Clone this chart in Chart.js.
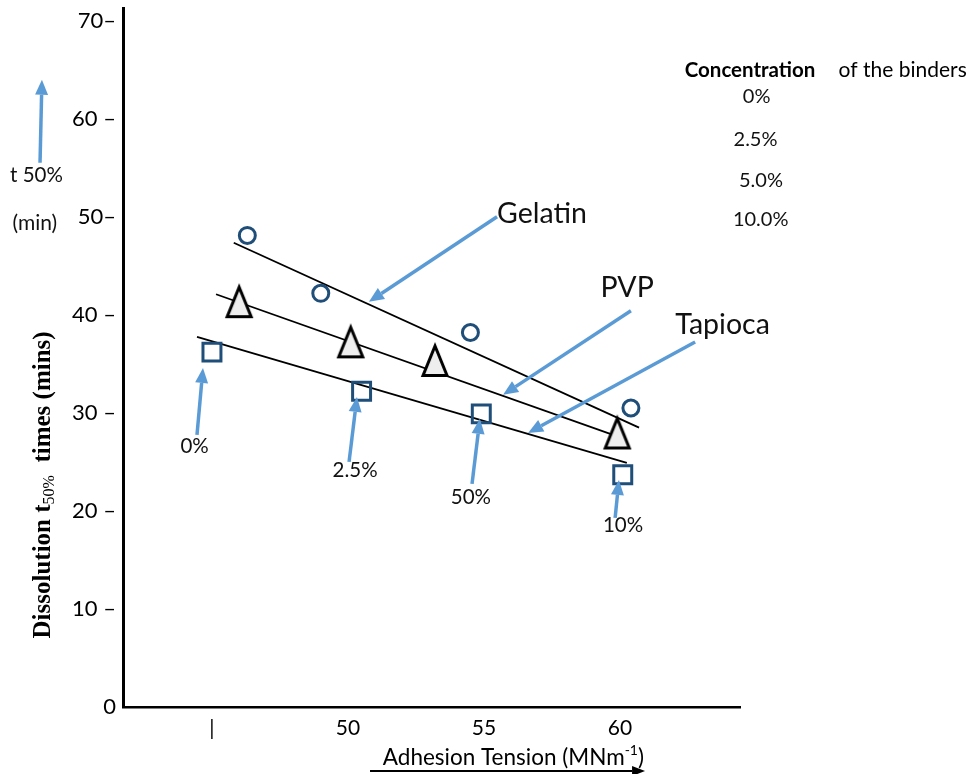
<!DOCTYPE html>
<html>
<head>
<meta charset="utf-8">
<script src="https://cdn.jsdelivr.net/npm/chart.js@4.4.1/dist/chart.umd.min.js"></script>
<style>
  html, body { margin: 0; padding: 0; background: #fff; }
  canvas { display: block; }
</style>
</head>
<body>
<canvas id="chart" width="969" height="774"></canvas>
<script>
// ---- data: adhesion tension (MNm^-1) vs dissolution t50% (min) ----
const seriesNames = ['Gelatin', 'PVP', 'Tapioca'];

const gelatinX = [46.3, 49.0, 54.5, 60.4];
const gelatinY = [48.1, 42.2, 38.2, 30.5];
const pvpX = [46.0, 50.1, 53.2, 59.9];
const pvpY = [41.4, 37.3, 35.4, 28.0];
const tapiocaX = [45.0, 50.5, 54.9, 60.1];
const tapiocaY = [36.2, 32.2, 29.9, 23.7];

// fitted trend lines (end points)
const gelatinFitX = [45.8, 60.7];
const gelatinFitY = [47.35, 28.5];
const pvpFitX = [45.15, 59.9];
const pvpFitY = [42.1, 27.6];
const tapiocaFitX = [44.45, 60.25];
const tapiocaFitY = [37.75, 24.9];

const xTickValues = [45, 50, 55, 60];
const xTickLabels = ['|', '50', '55', '60'];
const yTickValues = [0, 10, 20, 30, 40, 50, 60, 70];
const yTickLabels = ['0', '10 \u2013', '20 \u2013', '30 \u2013', '40 \u2013', '50\u2013', '60 \u2013', '70\u2013'];

const concentrationLevels = ['0%', '2.5%', '5.0%', '10.0%'];
const pointTags = ['0%', '2.5%', '50%', '10%'];

// ---- layout of callouts, in axis units ----
const layout = {
  seriesLabel: [[57.13, 50.3], [60.26, 42.76], [63.77, 39.0]],
  seriesArrow: [
    [[55.48, 50.0], [50.77, 41.33]],
    [[60.40, 40.41], [55.70, 31.84]],
    [[62.76, 37.24], [56.62, 27.96]]
  ],
  tagLabel: [[44.36, 26.63], [50.26, 24.18], [54.52, 21.43], [60.11, 18.57]],
  tagArrow: [
    [[44.45, 27.76], [44.67, 34.59]],
    [[50.04, 25.00], [50.33, 31.63]],
    [[54.56, 22.76], [54.85, 29.39]],
    [[59.82, 19.29], [59.96, 23.16]]
  ],
  legendTitle: [64.78, 64.95],
  legendTitleRest: [70.39, 64.95],
  legendRows: [[65.02, 62.24], [64.98, 57.86], [65.18, 53.67], [65.17, 49.69]],
  sideNote: [[38.55, 54.18], [38.49, 49.39]],
  sideArrow: [[38.68, 55.51], [38.75, 63.98]],
  yTitle: [38.75, 22.65],
  xTitle: [56.08, -5.1],
  xArrow: [[50.81, -6.53], [60.92, -6.53]]
};

const BLUE = '#5b9bd5';
const NAVY = '#1f4e79';
const SANS = 'Lato, "Liberation Sans", sans-serif';
const SERIF = '"Liberation Serif", "DejaVu Serif", serif';

function pairs(xs, ys) { return xs.map((v, i) => ({ x: v, y: ys[i] })); }

function triangleMarker() {
  const c = document.createElement('canvas');
  c.width = 32; c.height = 40;
  const g = c.getContext('2d');
  g.beginPath();
  g.moveTo(16, 6);
  g.lineTo(28, 35.5);
  g.lineTo(4, 35.5);
  g.closePath();
  g.fillStyle = '#eeeeee';
  g.fill();
  g.lineWidth = 3;
  g.lineJoin = 'miter';
  g.strokeStyle = '#000';
  g.stroke();
  return c;
}

function arrow(ctx, x1, y1, x2, y2, color, lw, headLen, headW) {
  const a = Math.atan2(y2 - y1, x2 - x1);
  const bx = x2 - headLen * Math.cos(a), by = y2 - headLen * Math.sin(a);
  ctx.save();
  ctx.strokeStyle = color;
  ctx.fillStyle = color;
  ctx.lineWidth = lw;
  ctx.lineCap = 'butt';
  ctx.beginPath();
  ctx.moveTo(x1, y1);
  ctx.lineTo(bx, by);
  ctx.stroke();
  ctx.beginPath();
  ctx.moveTo(x2, y2);
  ctx.lineTo(bx + headW / 2 * Math.sin(a), by - headW / 2 * Math.cos(a));
  ctx.lineTo(bx - headW / 2 * Math.sin(a), by + headW / 2 * Math.cos(a));
  ctx.closePath();
  ctx.fill();
  ctx.restore();
}

// draws runs of text with their own font and baseline shift, centred on (0,0)
function runs(ctx, parts) {
  let total = 0;
  parts.forEach(p => { ctx.font = p.font; p.w = ctx.measureText(p.text).width; total += p.w; });
  let cur = -total / 2;
  parts.forEach(p => {
    ctx.font = p.font;
    ctx.fillText(p.text, cur, p.shift);
    cur += p.w;
  });
}

const annotations = {
  id: 'annotations',
  afterDraw(chart) {
    const { ctx, scales: { x, y } } = chart;
    const P = pt => [x.getPixelForValue(pt[0]), y.getPixelForValue(pt[1])];
    const text = (str, pt, font, color) => {
      const [px, py] = P(pt);
      ctx.font = font;
      ctx.fillStyle = color || '#000';
      ctx.textAlign = 'center';
      ctx.textBaseline = 'middle';
      ctx.fillText(str, px, py);
    };
    const blueArrow = seg => {
      const [a, b] = [P(seg[0]), P(seg[1])];
      arrow(ctx, a[0], a[1], b[0], b[1], BLUE, 3.5, 15, 13);
    };

    ctx.save();

    // series names with pointers to their trend lines
    seriesNames.forEach((name, i) => {
      blueArrow(layout.seriesArrow[i]);
      text(name, layout.seriesLabel[i], '28.5px ' + SANS, '#111');
    });

    // binder concentration tags under the tapioca points
    pointTags.forEach((tag, i) => {
      blueArrow(layout.tagArrow[i]);
      text(tag, layout.tagLabel[i], '20.5px ' + SANS, '#111');
    });

    // concentration key
    text('Concentration', layout.legendTitle, 'bold 20.5px ' + SANS, '#000');
    text('of the binders', layout.legendTitleRest, '21px ' + SANS, '#000');
    concentrationLevels.forEach((lvl, i) => text(lvl, layout.legendRows[i], '20px ' + SANS, '#111'));

    // side note next to the y axis
    blueArrow(layout.sideArrow);
    text('t 50%', layout.sideNote[0], '20.5px ' + SANS, '#111');
    text('(min)', layout.sideNote[1], '21px ' + SANS, '#111');

    // y axis title with subscript
    {
      const [px, py] = P(layout.yTitle);
      ctx.save();
      ctx.translate(px, py);
      ctx.rotate(-Math.PI / 2);
      ctx.fillStyle = '#000';
      ctx.textAlign = 'left';
      ctx.textBaseline = 'alphabetic';
      runs(ctx, [
        { text: 'Dissolution t', font: 'bold 25px ' + SERIF, shift: 8 },
        { text: '50%', font: '16px ' + SERIF, shift: 12 },
        { text: '  times (mins)', font: 'bold 25px ' + SERIF, shift: 8 }
      ]);
      ctx.restore();
    }

    // x axis title with superscript and direction arrow
    {
      const [px, py] = P(layout.xTitle);
      ctx.save();
      ctx.translate(px, py);
      ctx.fillStyle = '#000';
      ctx.textAlign = 'left';
      ctx.textBaseline = 'alphabetic';
      runs(ctx, [
        { text: 'Adhesion Tension (MNm', font: '22.5px ' + SANS, shift: 8 },
        { text: '-1', font: '14px ' + SANS, shift: -2 },
        { text: ')', font: '22.5px ' + SANS, shift: 8 }
      ]);
      ctx.restore();
      const [a, b] = [P(layout.xArrow[0]), P(layout.xArrow[1])];
      arrow(ctx, a[0], a[1], b[0], b[1], '#000', 2, 13, 10);
    }

    ctx.restore();
  }
};

Chart.defaults.font.family = SANS;
Chart.defaults.color = '#000';

new Chart(document.getElementById('chart'), {
  type: 'scatter',
  data: {
    datasets: [
      {
        label: seriesNames[0] + ' fit', data: pairs(gelatinFitX, gelatinFitY),
        showLine: true, borderColor: '#000', borderWidth: 1.8, pointRadius: 0, order: 2
      },
      {
        label: seriesNames[1] + ' fit', data: pairs(pvpFitX, pvpFitY),
        showLine: true, borderColor: '#000', borderWidth: 1.8, pointRadius: 0, order: 2
      },
      {
        label: seriesNames[2] + ' fit', data: pairs(tapiocaFitX, tapiocaFitY),
        showLine: true, borderColor: '#000', borderWidth: 1.8, pointRadius: 0, order: 2
      },
      {
        label: seriesNames[0], data: pairs(gelatinX, gelatinY),
        pointStyle: 'circle', pointRadius: 8, borderWidth: 3,
        borderColor: NAVY, backgroundColor: 'rgba(0,0,0,0)', order: 1
      },
      {
        label: seriesNames[1], data: pairs(pvpX, pvpY),
        pointStyle: triangleMarker(), pointRadius: 10, order: 1
      },
      {
        label: seriesNames[2], data: pairs(tapiocaX, tapiocaY),
        pointStyle: 'rect', pointRadius: 12.7, borderWidth: 3,
        borderColor: NAVY, backgroundColor: 'rgba(0,0,0,0)', order: 1
      }
    ]
  },
  options: {
    responsive: false,
    animation: false,
    devicePixelRatio: 1,
    events: [],
    layout: { autoPadding: false, padding: { left: 0, top: 8, right: 229, bottom: 0 } },
    plugins: { legend: { display: false }, tooltip: { enabled: false } },
    scales: {
      x: {
        type: 'linear',
        min: 41.73,
        max: 64.41,
        afterBuildTicks: s => { s.ticks = xTickValues.map(v => ({ value: v })); },
        afterFit: s => { s.height = 67; s.paddingLeft = 0; s.paddingRight = 0; },
        ticks: {
          callback: (v, i) => xTickLabels[i],
          font: { size: 21, family: SANS },
          color: '#000',
          padding: 9,
          maxRotation: 0,
          autoSkip: false
        },
        grid: { display: false, drawTicks: false },
        border: { display: true, color: '#000', width: 2.5 }
      },
      y: {
        type: 'linear',
        min: 0,
        max: 71.3,
        afterBuildTicks: s => { s.ticks = yTickValues.map(v => ({ value: v })); },
        afterFit: s => { s.width = 123; s.paddingTop = 0; s.paddingBottom = 0; },
        ticks: {
          callback: (v, i) => yTickLabels[i],
          font: { size: 22, family: SANS, lineHeight: 0.7 },
          color: '#000',
          padding: 0,
          autoSkip: false
        },
        grid: {
          display: true, drawOnChartArea: false, drawTicks: true,
          tickLength: 7, color: 'rgba(0,0,0,0)'
        },
        border: { display: true, color: '#000', width: 3 }
      }
    }
  },
  plugins: [annotations]
});
</script>
</body>
</html>
